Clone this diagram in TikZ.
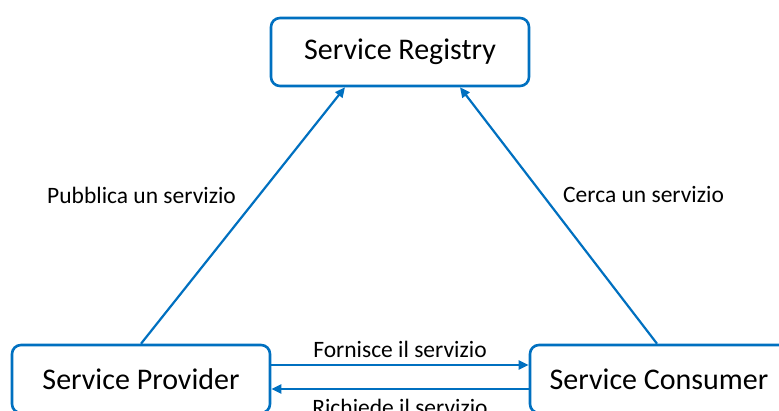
\documentclass[tikz,border=0pt]{standalone}
\usepackage{fontspec}
\setmainfont{Carlito}
\usepackage{xcolor}
\usepackage{tikz}
\usetikzlibrary{arrows.meta,positioning}

\definecolor{officeblue}{RGB}{0,112,192}

\tikzset{
    service/.style={draw=officeblue, line width=2.6pt, rounded corners=9pt,
                    minimum width=258pt, minimum height=68pt,
                    font=\fontsize{30}{33}\selectfont, fill=white},
    flow/.style={draw=officeblue, line width=2.2pt,
                 -{Triangle[length=10pt,width=9pt]}},
    tag/.style={font=\fontsize{23.5}{26}\selectfont}
}

\begin{document}
\begin{tikzpicture}[x=1pt,y=1pt]
                \useasboundingbox (0,0) rectangle (779,410);
                \clip (0,0) rectangle (779,410);

                \node [service] (registry) at (400,358) {Service Registry};
                \node [service] (provider) at (141,31) {Service Provider};
                \node [service] (consumer) at (659,31) {Service Consumer};

                % publish and lookup
                \draw [flow] (provider.north) -- ([xshift=-55pt]registry.south)
                            node [tag, pos=0.58, left=19pt] {Pubblica un servizio};
                \draw [flow] ([xshift=-2pt]consumer.north) -- ([xshift=60pt]registry.south)
                            node [tag, pos=0.58, right=16pt] {Cerca un servizio};

                % bind
                \draw [flow] ([yshift=14pt]provider.east) -- ([yshift=14pt]consumer.west)
                            node [tag, midway, above=3pt] {Fornisce il servizio};
                \draw [flow] ([yshift=-10pt]consumer.west) -- ([yshift=-10pt]provider.east)
                            node [tag, midway, below=6pt] {Richiede il servizio};
\end{tikzpicture}
\end{document}
